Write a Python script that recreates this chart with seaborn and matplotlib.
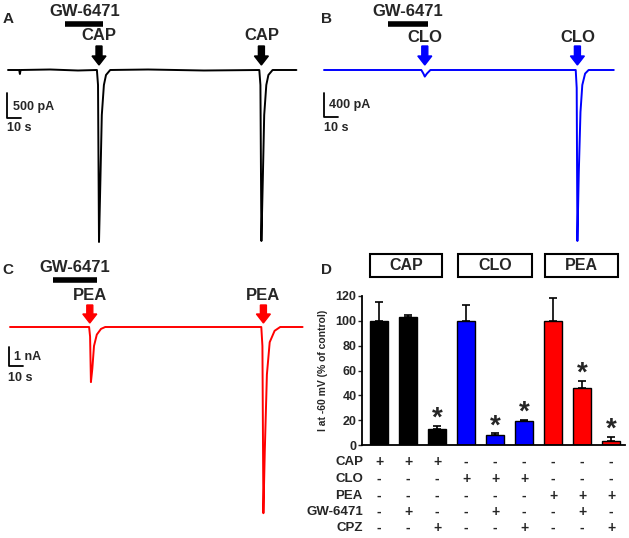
import numpy as np
import pandas as pd
import matplotlib
matplotlib.use("Agg")
import matplotlib.pyplot as plt
import matplotlib.transforms as mtransforms
from matplotlib.patches import FancyArrow, Rectangle
import seaborn as sns

# --- data ---
# panel A: CAP responses (time s, current pA)
tA = [0, 8, 8.5, 9, 30, 50, 63.5, 64.3, 65, 66.0, 67.0, 68.5, 70, 73, 100, 140, 179.5, 180.3, 181, 182.0, 183.0, 184.5, 186, 189, 206]
iA = [0, 0, -80, 0, 10, -10, 0, -300, -3440, -2200, -900, -300, -100, 0, 10, -10, 0, -300, -3420, -2200, -900, -300, -100, 0, 0]
# panel B: CLO responses (time s, current pA)
tB = [0, 30, 69.5, 71, 72, 73.5, 76, 120, 179.8, 180.5, 181, 182.0, 183.2, 184.5, 186.5, 189, 207]
iB = [0, 0, 0, -60, -110, -60, 0, 0, 0, -300, -2850, -1700, -700, -250, -60, 0, 0]
# panel C: PEA responses (time s, current nA)
tC = [0, 30, 56.5, 57.2, 57.8, 58.8, 60, 62, 65, 68, 100, 150, 179.5, 180.3, 181, 182, 183.5, 185.5, 189, 193, 209]
iC = [0, 0, 0, -0.5, -2.9, -2.2, -1.0, -0.4, -0.1, 0, 0, 0, 0, -1.0, -9.8, -6.5, -2.5, -0.8, -0.2, 0, 0]

# drug application marks (s)
gw_A = (41, 68)
gw_B = (46, 74)
gw_C = (31, 62)
arrows_A = [65, 181]
arrows_B = [72, 181]
arrows_C = [57, 181]

# panel D: bar chart
conditions = ["1", "2", "3", "4", "5", "6", "7", "8", "9"]
agonist = ["CAP", "CAP", "CAP", "CLO", "CLO", "CLO", "PEA", "PEA", "PEA"]
values = [100, 103, 12.5, 100, 8, 19, 100, 46, 3.5]
errors = [15, 1.5, 3, 12.5, 1.5, 1.5, 18.5, 5.5, 3]
starred = [2, 4, 5, 7, 8]
row_names = ["CAP", "CLO", "PEA", "GW-6471", "CPZ"]
row_signs = [
    ["+", "+", "+", "-", "-", "-", "-", "-", "-"],
    ["-", "-", "-", "+", "+", "+", "-", "-", "-"],
    ["-", "-", "-", "-", "-", "-", "+", "+", "+"],
    ["-", "+", "-", "-", "+", "-", "-", "+", "-"],
    ["-", "-", "+", "-", "-", "+", "-", "-", "+"],
]
colors = {"CAP": "black", "CLO": "#0000ff", "PEA": "#ff0000"}

sns.set_style("white")
plt.rcParams["font.family"] = ["Liberation Sans", "DejaVu Sans"]
plt.rcParams["font.weight"] = "bold"

W, H = 629, 538
fig = plt.figure(figsize=(W / 100, H / 100), dpi=100)
# pixel coords, origin top-left
pix = mtransforms.Affine2D().scale(1 / W, -1 / H).translate(0, 1) + fig.transFigure


def trace_axes(left, top, width, height, x0, y0, sx, sy):
    ax = fig.add_axes([left / W, 1 - (top + height) / H, width / W, height / H])
    ax.set_xlim((left - x0) / sx, (left + width - x0) / sx)
    ax.set_ylim((y0 - (top + height)) / sy, (y0 - top) / sy)
    ax.axis("off")
    return ax


def draw_trace(ax, t, i, color, gw, arrow_ts, label, gw_y, label_y, arr_top, arr_tip,
               sb_corner, sb_amp, sb_text, sb_text_xy, s_text_xy):
    sns.lineplot(x=t, y=i, ax=ax, color=color, linewidth=1.4, estimator=None, sort=False)
    bl = mtransforms.blended_transform_factory(ax.transData, pix)
    # GW-6471 bar and label
    ax.plot(gw, [gw_y, gw_y], color="black", linewidth=4, transform=bl, clip_on=False,
            solid_capstyle="butt")
    ax.text(np.mean(gw), gw_y - 12, "GW-6471", transform=bl, ha="center", va="center",
            fontsize=12, fontweight="bold")
    for ts in arrow_ts:
        xpx = ax.transData.transform((ts, 0))[0]
        fig.add_artist(FancyArrow(xpx, arr_top, 0, arr_tip - arr_top, width=6, head_width=14,
                                  head_length=9, length_includes_head=True, color=color,
                                  transform=pix))
        ax.text(ts, label_y, label, transform=bl, ha="center", va="center",
                fontsize=12, fontweight="bold")
    # scale bar
    x0, y0 = sb_corner
    ax.plot([x0, x0, x0 + 10], [y0 + sb_amp, y0, y0], color="black", linewidth=1.3,
            clip_on=False)
    fig.text(*sb_text_xy, sb_text, transform=pix, ha="left", va="center", fontsize=9,
             fontweight="bold")
    fig.text(*s_text_xy, "10 s", transform=pix, ha="left", va="center", fontsize=9,
             fontweight="bold")


axA = trace_axes(0, 0, 312, 255, 8, 70, 1.4, 0.05)
draw_trace(axA, tA, iA, "black", gw_A, arrows_A, "CAP", 24, 36, 46, 65,
           (-0.7, -960), 500, "500 pA", (13, 107), (7, 128))
axB = trace_axes(316, 0, 313, 255, 324, 70, 1.4, 0.06)
draw_trace(axB, tB, iB, "#0000ff", gw_B, arrows_B, "CLO", 24, 37, 46, 65,
           (0, -783), 400, "400 pA", (329, 105), (324, 128))
axC = trace_axes(0, 255, 316, 283, 10, 327, 1.4, 19)
draw_trace(axC, tC, iC, "#ff0000", gw_C, arrows_C, "PEA", 280, 295, 305, 323,
           (-0.7, -2.05), 1, "1 nA", (14, 357), (8, 378))

for letter, (x, y) in {"A": (8, 19), "B": (327, 19), "C": (8, 270), "D": (326, 270)}.items():
    fig.text(x, y, letter, transform=pix, ha="center", va="center", fontsize=11,
             fontweight="bold")

# --- panel D ---
axD = fig.add_axes([362 / W, 1 - 445 / H, (625 - 362) / W, (445 - 296) / H])
df = pd.DataFrame({"cond": conditions, "value": values, "agonist": agonist})
sns.barplot(data=df, x="cond", y="value", hue="agonist", palette=colors, dodge=False,
            width=0.62, edgecolor="black", linewidth=1, errorbar=None, legend=False,
            saturation=1, ax=axD)
axD.errorbar(range(len(values)), values, yerr=[np.zeros(len(values)), errors], fmt="none",
             ecolor="black", elinewidth=1.2, capsize=3, capthick=1.2)
for k in starred:
    axD.annotate("*", xy=(k, values[k] + errors[k]), xytext=(0, 0), textcoords="offset points",
                 ha="center", va="baseline", fontsize=20, fontweight="bold")
axD.set_xlim(-0.59, 8.48)
axD.set_ylim(0, 120)
axD.set_yticks(range(0, 121, 20))
axD.set_xticks([])
axD.set_xlabel("")
axD.set_ylabel("I at -60 mV (% of control)", fontsize=7.5, fontweight="bold")
axD.yaxis.set_label_coords(-0.13, 0.5)
axD.tick_params(axis="y", left=True, length=3, width=1, pad=1, labelsize=9)
for lab in axD.get_yticklabels():
    lab.set_fontweight("bold")
sns.despine(ax=axD)
for sp in ["left", "bottom"]:
    axD.spines[sp].set_linewidth(1.3)
    axD.spines[sp].set_color("black")

blD = mtransforms.blended_transform_factory(axD.transData, pix)
row_y = [462, 479, 496, 512, 528]
for name, signs, y in zip(row_names, row_signs, row_y):
    fig.text(363, y, name, transform=pix, ha="right", va="center", fontsize=9.5,
             fontweight="bold")
    for k, s in enumerate(signs):
        axD.text(k, y, s, transform=blD, ha="center", va="center", fontsize=10,
                 fontweight="bold", clip_on=False)

for name, (x, w) in {"CAP": (370, 72), "CLO": (458, 74), "PEA": (545, 73)}.items():
    fig.add_artist(Rectangle((x, 254), w, 23, transform=pix, facecolor="white",
                             edgecolor="black", linewidth=1.5))
    fig.text(x + w / 2, 266, name, transform=pix, ha="center", va="center", fontsize=11.5,
             fontweight="bold")

fig.savefig("out.png", dpi=100)
